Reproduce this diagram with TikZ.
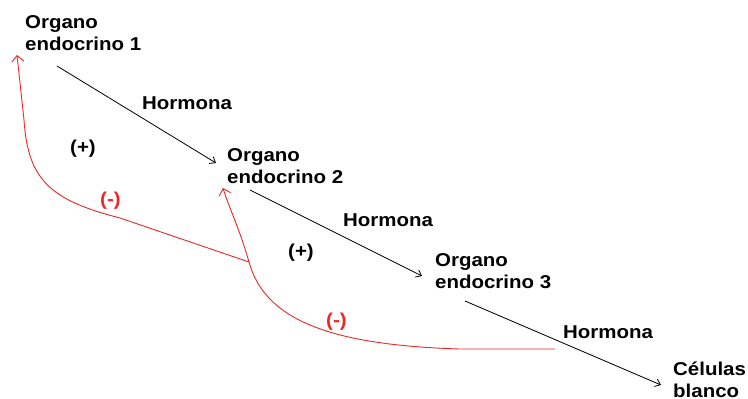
\documentclass[tikz,border=0pt]{standalone}
\usepackage{fontspec}
\setmainfont{Liberation Sans}[FakeStretch=1.1]
\usetikzlibrary{arrows.meta}
\definecolor{fbred}{RGB}{236,40,40}
\begin{document}
\begin{tikzpicture}[x=1pt,y=-1pt,
  lbl/.style={font=\fontsize{18.6}{22}\selectfont\bfseries, inner sep=0pt, anchor=base west, align=left},
  hormone/.style={draw=black, line width=0.8pt, -{Straight Barb[length=5pt,width=8pt]}},
  feedback/.style={draw=fbred, line width=0.9pt, -{Straight Barb[length=6pt,width=12pt]}}]
\useasboundingbox[fill=white] (0,0) rectangle (748,399);

% organs and target cells (anchored on the baseline of the lower line)
\node[lbl] (org1) at (25,50) {Organo\\endocrino 1};
\node[lbl] (org2) at (227,183) {Organo\\endocrino 2};
\node[lbl] (org3) at (435,288) {Organo\\endocrino 3};
\node[lbl] (cells) at (673,397) {Células\\blanco};

% hormone labels and signs
\node[lbl] (h1) at (142,109) {Hormona};
\node[lbl] (h2) at (343,226) {Hormona};
\node[lbl] (h3) at (563,338) {Hormona};
\node[lbl] (p1) at (70,153) {(+)};
\node[lbl] (p2) at (288,257) {(+)};
\node[lbl, text=fbred] (m1) at (100,205) {(-)};
\node[lbl, text=fbred] (m2) at (326,326) {(-)};

% ends of the hormone arrows
\coordinate (a1) at (57,66);   \coordinate (b1) at (216,163);
\coordinate (a2) at (250,190); \coordinate (b2) at (422,276);
\coordinate (a3) at (465,301); \coordinate (b3) at (661,385);

\draw[hormone] (a1) -- (b1);
\draw[hormone] (a2) -- (b2);
\draw[hormone] (a3) -- (b3);

% negative feedback loops
\coordinate (f2) at (555,349);
\coordinate (t2) at (223,188);
\coordinate (j) at (249,262);
\coordinate (t1) at (17,55);

\draw[feedback] (f2) -- (460,349)
  .. controls (330,345) and (265,320) .. (249,262)
  .. controls (240,230) and (228,205) .. (t2);
\draw[feedback] (j) -- (120,218)
  .. controls (50,200) and (28,180) .. (24,120)
  -- (t1);
\end{tikzpicture}
\end{document}
